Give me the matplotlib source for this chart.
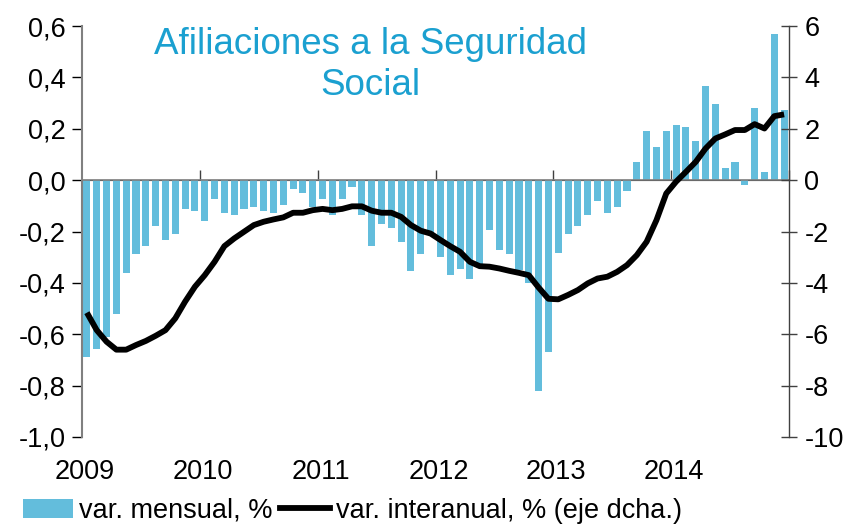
import matplotlib
matplotlib.use("Agg")
import matplotlib.pyplot as plt
from matplotlib.patches import Patch
from matplotlib.lines import Line2D
import numpy as np

plt.rcParams['font.family'] = ['Liberation Sans', 'DejaVu Sans']

years = ['2009', '2010', '2011', '2012', '2013', '2014']

mensual = [
    -0.687, -0.656, -0.610, -0.520, -0.360, -0.287, -0.255, -0.178, -0.232, -0.209, -0.112, -0.119,
    -0.158, -0.073, -0.127, -0.135, -0.112, -0.104, -0.119, -0.127, -0.096, -0.034, -0.049, -0.104,
    -0.073, -0.135, -0.073, -0.026, -0.135, -0.255, -0.170, -0.185, -0.240, -0.354, -0.288, -0.210,
    -0.298, -0.370, -0.346, -0.385, -0.330, -0.195, -0.272, -0.288, -0.350, -0.400, -0.820, -0.670,
    -0.283, -0.209, -0.178, -0.135, -0.082, -0.127, -0.104, -0.042, 0.070, 0.191, 0.128, 0.191,
    0.214, 0.206, 0.152, 0.366, 0.296, 0.047, 0.070, -0.018, 0.280, 0.031, 0.568, 0.272,
]

interanual = [
    -5.16, -5.84, -6.29, -6.60, -6.60, -6.42, -6.26, -6.06, -5.84, -5.38, -4.73, -4.15,
    -3.70, -3.18, -2.57, -2.27, -2.01, -1.75, -1.62, -1.53, -1.45, -1.27, -1.27, -1.17,
    -1.12, -1.17, -1.12, -1.02, -1.02, -1.19, -1.27, -1.27, -1.43, -1.75, -1.97, -2.08,
    -2.33, -2.57, -2.79, -3.18, -3.35, -3.37, -3.44, -3.53, -3.61, -3.70, -4.18, -4.62,
    -4.64, -4.47, -4.28, -4.02, -3.83, -3.76, -3.57, -3.31, -2.92, -2.40, -1.56, -0.52,
    -0.06, 0.32, 0.71, 1.23, 1.62, 1.78, 1.95, 1.95, 2.18, 2.01, 2.49, 2.56,
]

left_ticks = [0.6, 0.4, 0.2, 0.0, -0.2, -0.4, -0.6, -0.8, -1.0]
right_ticks = [6, 4, 2, 0, -2, -4, -6, -8, -10]

bar_color = '#63BDDC'
title_color = '#1BA0D0'
FS = 19.5

fig = plt.figure(figsize=(8.47, 5.27), dpi=100)
ax = fig.add_axes([82 / 847, 1 - 437 / 527, (789 - 82) / 847, (437 - 26) / 527])
ax2 = ax.twinx()

n = len(mensual)
x = np.arange(n) + 0.5
ax.bar(x, mensual, width=0.72, color=bar_color, zorder=2)
ax.axhline(0, color='#7f7f7f', lw=1.2, zorder=3)
ax2.plot(x, interanual, color='black', lw=4.2, solid_capstyle='butt', solid_joinstyle='round', zorder=4)

ax.set_xlim(0, n)
ax.set_ylim(-1.0, 0.6)
ax2.set_ylim(-10, 6)

ax.set_yticks(left_ticks)
ax.set_yticklabels([f"{v:.1f}".replace('.', ',') for v in left_ticks], fontsize=FS)
ax2.set_yticks(right_ticks)
ax2.set_yticklabels([str(v) for v in right_ticks], fontsize=FS)

for s in ['top', 'bottom']:
    ax.spines[s].set_visible(False)
    ax2.spines[s].set_visible(False)
ax2.spines['left'].set_visible(False)
ax.spines['right'].set_visible(False)
ax.spines['left'].set_color('#808080')
ax.spines['left'].set_linewidth(1.5)
ax2.spines['right'].set_color('#404040')
ax2.spines['right'].set_linewidth(1.0)

ax.tick_params(axis='y', direction='out', length=7, width=1, color='black', pad=5)
ax2.tick_params(axis='y', direction='inout', length=12, width=1, color='#404040', pad=5)

# year labels on bottom axis (no tick marks)
ax.set_xticks([12 * i + 0.3 for i in range(len(years))])
ax.set_xticklabels(years, fontsize=FS)
ax.tick_params(axis='x', length=0, pad=16)

# tick marks on the zero line at year boundaries
sec = ax.secondary_xaxis(1.0 / 1.6)
sec.set_xticks([12 * i for i in range(1, 7)])
sec.set_xticklabels([])
sec.tick_params(axis='x', direction='out', length=7, width=1, color='#404040')
sec.spines['bottom'].set_visible(False)

fig.text(370 / 847, 1 - 65 / 527, 'Afiliaciones a la Seguridad\nSocial', ha='center', va='center',
         fontsize=26.5, color=title_color, linespacing=1.2)

handles = [Patch(facecolor=bar_color, edgecolor='none'),
           Line2D([0], [0], color='black', lw=4.2)]
labels = ['var. mensual, %', 'var. interanual, % (eje dcha.)']
fig.legend(handles, labels, loc='lower left', bbox_to_anchor=(0.008, -0.025), ncol=2, frameon=False,
           fontsize=FS, handlelength=1.85, handletextpad=0.2, columnspacing=0.3, borderaxespad=0.2)

fig.savefig('out.png', dpi=100)
